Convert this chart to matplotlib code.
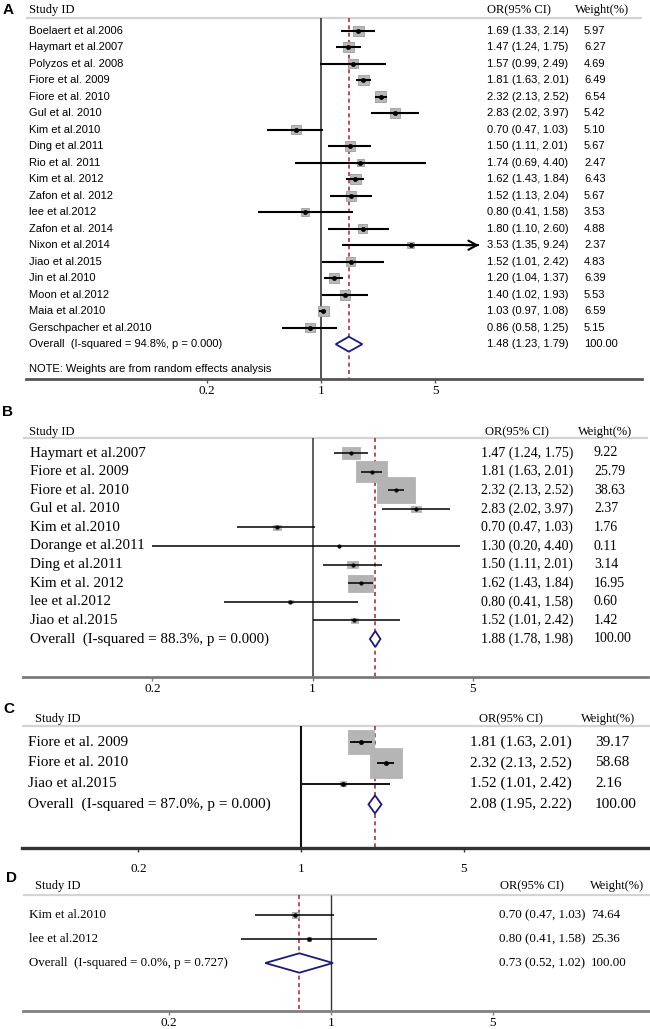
import numpy as np
import matplotlib
matplotlib.use("Agg")
import matplotlib.pyplot as plt
from matplotlib.patches import Rectangle, Polygon
from matplotlib.ticker import NullLocator

SERIF = "Liberation Serif"
SANS = "Liberation Sans"

# ---- data -------------------------------------------------------------
a_study = ["Boelaert et al.2006", "Haymart et al.2007", "Polyzos et al. 2008",
           "Fiore et al. 2009", "Fiore et al. 2010", "Gul et al. 2010",
           "Kim et al.2010", "Ding et al.2011", "Rio et al. 2011",
           "Kim et al. 2012", "Zafon et al. 2012", "lee et al.2012",
           "Zafon et al. 2014", "Nixon et al.2014", "Jiao et al.2015",
           "Jin et al.2010", "Moon et al.2012", "Maia et al.2010",
           "Gerschpacher et al.2010"]
a_or = [1.69, 1.47, 1.57, 1.81, 2.32, 2.83, 0.70, 1.50, 1.74, 1.62, 1.52,
        0.80, 1.80, 3.53, 1.52, 1.20, 1.40, 1.03, 0.86]
a_lo = [1.33, 1.24, 0.99, 1.63, 2.13, 2.02, 0.47, 1.11, 0.69, 1.43, 1.13,
        0.41, 1.10, 1.35, 1.01, 1.04, 1.02, 0.97, 0.58]
a_hi = [2.14, 1.75, 2.49, 2.01, 2.52, 3.97, 1.03, 2.01, 4.40, 1.84, 2.04,
        1.58, 2.60, 9.24, 2.42, 1.37, 1.93, 1.08, 1.25]
a_wt = [5.97, 6.27, 4.69, 6.49, 6.54, 5.42, 5.10, 5.67, 2.47, 6.43, 5.67,
        3.53, 4.88, 2.37, 4.83, 6.39, 5.53, 6.59, 5.15]
a_pooled = [1.48, 1.23, 1.79]
a_pooled_label = "Overall  (I-squared = 94.8%, p = 0.000)"
a_note = "NOTE: Weights are from random effects analysis"

b_study = ["Haymart et al.2007", "Fiore et al. 2009", "Fiore et al. 2010",
           "Gul et al. 2010", "Kim et al.2010", "Dorange et al.2011",
           "Ding et al.2011", "Kim et al. 2012", "lee et al.2012",
           "Jiao et al.2015"]
b_or = [1.47, 1.81, 2.32, 2.83, 0.70, 1.30, 1.50, 1.62, 0.80, 1.52]
b_lo = [1.24, 1.63, 2.13, 2.02, 0.47, 0.20, 1.11, 1.43, 0.41, 1.01]
b_hi = [1.75, 2.01, 2.52, 3.97, 1.03, 4.40, 2.01, 1.84, 1.58, 2.42]
b_wt = [9.22, 25.79, 38.63, 2.37, 1.76, 0.11, 3.14, 16.95, 0.60, 1.42]
b_pooled = [1.88, 1.78, 1.98]
b_pooled_label = "Overall  (I-squared = 88.3%, p = 0.000)"

c_study = ["Fiore et al. 2009", "Fiore et al. 2010", "Jiao et al.2015"]
c_or = [1.81, 2.32, 1.52]
c_lo = [1.63, 2.13, 1.01]
c_hi = [2.01, 2.52, 2.42]
c_wt = [39.17, 58.68, 2.16]
c_pooled = [2.08, 1.95, 2.22]
c_pooled_label = "Overall  (I-squared = 87.0%, p = 0.000)"

d_study = ["Kim et al.2010", "lee et al.2012"]
d_or = [0.70, 0.80]
d_lo = [0.47, 0.41]
d_hi = [1.03, 1.58]
d_wt = [74.64, 25.36]
d_pooled = [0.73, 0.52, 1.02]
d_pooled_label = "Overall  (I-squared = 0.0%, p = 0.727)"

ticks = [0.2, 1, 5]
tick_labels = ["0.2", "1", "5"]
headers = ["Study ID", "OR(95% CI)", "Weight(%)"]

# ---- layout (pixels of the 650x1029 canvas) ----------------------------
W, H = 650, 1029
fig = plt.figure(figsize=(W / 100, H / 100), dpi=100)

lay_a = dict(letter="A", lxy=(3, 10), top=0, axis=379, y0=30.7, sp=16.5,
             null=321, k=71, head=10, hline=18, span=(26, 642),
             cols=(29, 487, 584), hcols=(29, 487, 575),
             font=SANS, fs=8, vfs=8, ci_lw=1.5, box=(4.3, 4.1), dot=3.2,
             dia=7.5, axis_c="#555555", axis_lw=2, null_c="#222222",
             null_lw=1.1, pad=1.5, box_c="#b9b9b9", box_e="#9c9c9c")
lay_b = dict(letter="B", lxy=(2, 412), top=400, axis=677, y0=453, sp=18.6,
             null=312.5, k=99.5, head=432, hline=438, span=(23, 648),
             cols=(30, 481, 594), hcols=(29, 485, 578),
             font=SERIF, fs=10.8, vfs=10, ci_lw=1.1, box=(6.1, 4.1),
             dot=2.6, dia=8, axis_c="#7a7a7a", axis_lw=2, null_c="#444444",
             null_lw=1.2, pad=1.5, box_c="#b3b3b3", box_e="#b3b3b3")
lay_c = dict(letter="C", lxy=(3, 709), top=700, axis=848, y0=742, sp=20.8,
             null=301, k=101, head=719, hline=726, span=(22, 650),
             cols=(27.5, 470, 595), hcols=(35, 479, 581),
             font=SERIF, fs=11, vfs=11, ci_lw=1.3, box=(4.2, 3.9), dot=3.2,
             dia=9, axis_c="#333333", axis_lw=2.4, null_c="#111111",
             null_lw=1.5, pad=8, box_c="#b5b5b5", box_e="#b5b5b5")
lay_d = dict(letter="D", lxy=(6, 878), top=870, axis=1011, y0=915, sp=24,
             null=331, k=100.5, head=886, hline=895, span=(23, 650),
             cols=(29, 499, 591), hcols=(35, 500, 590),
             font=SERIF, fs=9.3, vfs=9.3, ci_lw=1.1, box=(0.78, 0.8),
             dot=2.8, dia=9.7, axis_c="#808080", axis_lw=2, null_c="#333333",
             null_lw=1.0, pad=1.5, box_c="#c2c2c2", box_e="#a0a0a0")


def panel(lay, names, est, lo, hi, wt, pooled, pooled_label, note=None):
    y0, sp, null, k = lay["y0"], lay["sp"], lay["null"], lay["k"]
    row = lambda px: (px - y0) / sp
    xval = lambda px: np.exp((px - null) / k)

    ax = fig.add_axes([0, 1 - lay["axis"] / H, 1, (lay["axis"] - lay["top"]) / H])
    ax.patch.set_visible(False)
    ax.set_xscale("log")
    ax.set_xlim(xval(0), xval(W))
    ax.set_ylim(row(lay["axis"]), row(lay["top"]))
    for s in ["left", "right", "top"]:
        ax.spines[s].set_visible(False)
    ax.spines["bottom"].set_bounds(xval(lay["span"][0]), xval(lay["span"][1]))
    ax.spines["bottom"].set_color(lay["axis_c"])
    ax.spines["bottom"].set_linewidth(lay["axis_lw"])
    ax.set_yticks([])
    ax.set_xticks(ticks, labels=tick_labels)
    ax.xaxis.set_minor_locator(NullLocator())
    ax.tick_params(axis="x", direction="out", length=3, width=1,
                   color=lay["axis_c"], pad=lay["pad"], labelsize=9.5)
    for t in ax.get_xticklabels():
        t.set_fontfamily(SERIF)

    bottom = row(lay["axis"])
    hl = row(lay["hline"])
    ax.hlines(hl, xval(lay["span"][0]), xval(lay["span"][1]),
              color="#d4d4d4", lw=1.6)
    ax.vlines(1, hl, bottom, color=lay["null_c"], lw=lay["null_lw"])
    ax.vlines(pooled[0], hl, bottom, color="#a3202c", lw=1.1,
              linestyles=(0, (2.6, 2.2)))

    # header
    yh = row(lay["head"])
    tr = ax.get_yaxis_transform()
    for x, txt in zip(lay["hcols"], headers):
        ax.text(x / W, yh, txt, transform=tr, va="center", ha="left",
                fontfamily=SERIF, fontsize=9)
    fig.text(lay["lxy"][0] / W, 1 - lay["lxy"][1] / H, lay["letter"],
             fontfamily=SANS, fontweight="bold", fontsize=11,
             va="center", ha="left")

    bw, bh = lay["box"]
    for i in range(len(names)):
        side_w = bw * np.sqrt(wt[i])
        side_h = bh * np.sqrt(wt[i])
        x0 = est[i] * np.exp(-side_w / 2 / k)
        x1 = est[i] * np.exp(side_w / 2 / k)
        ax.add_patch(Rectangle((x0, i - side_h / 2 / sp), x1 - x0, side_h / sp,
                               facecolor=lay["box_c"], edgecolor=lay["box_e"],
                               lw=0.6, zorder=2))
        ax.hlines(i, lo[i], hi[i], color="black", lw=lay["ci_lw"], zorder=3)
        if hi[i] > ticks[-1]:
            ax.annotate("", xy=(hi[i], i), xytext=(hi[i] / 1.2, i),
                        arrowprops=dict(arrowstyle="->,head_length=0.6,head_width=0.33",
                                        lw=lay["ci_lw"], color="black",
                                        mutation_scale=10, shrinkA=0, shrinkB=0),
                        zorder=3)
        ax.plot(est[i], i, "o", ms=lay["dot"], color="black", mec="black",
                mew=0.3, zorder=4)
        ax.text(lay["cols"][0] / W, i, names[i], transform=tr, va="center",
                fontfamily=lay["font"], fontsize=lay["fs"])
        ax.text(lay["cols"][1] / W, i, f"{est[i]:.2f} ({lo[i]:.2f}, {hi[i]:.2f})",
                transform=tr, va="center", fontfamily=lay["font"],
                fontsize=lay["vfs"])
        ax.text(lay["cols"][2] / W, i, f"{wt[i]:.2f}", transform=tr,
                va="center", fontfamily=lay["font"], fontsize=lay["vfs"])

    # pooled estimate
    n = len(names)
    h = lay["dia"] / sp
    ax.add_patch(Polygon([(pooled[1], n), (pooled[0], n - h), (pooled[2], n),
                          (pooled[0], n + h)], closed=True, facecolor="white",
                         edgecolor="#1c1c78", lw=1.3, zorder=4))
    ax.text(lay["cols"][0] / W, n, pooled_label, transform=tr, va="center",
            fontfamily=lay["font"], fontsize=lay["fs"])
    ax.text(lay["cols"][1] / W, n, f"{pooled[0]:.2f} ({pooled[1]:.2f}, {pooled[2]:.2f})",
            transform=tr, va="center", fontfamily=lay["font"], fontsize=lay["vfs"])
    ax.text(lay["cols"][2] / W, n, "100.00", transform=tr, va="center",
            fontfamily=lay["font"], fontsize=lay["vfs"])
    if note:
        ax.text(lay["cols"][0] / W, row(369), note, transform=tr, va="center",
                fontfamily=lay["font"], fontsize=lay["fs"])
    return ax


panel(lay_a, a_study, a_or, a_lo, a_hi, a_wt, a_pooled, a_pooled_label, a_note)
panel(lay_b, b_study, b_or, b_lo, b_hi, b_wt, b_pooled, b_pooled_label)
panel(lay_c, c_study, c_or, c_lo, c_hi, c_wt, c_pooled, c_pooled_label)
panel(lay_d, d_study, d_or, d_lo, d_hi, d_wt, d_pooled, d_pooled_label)

fig.savefig("out.png", dpi=100, facecolor="white")
